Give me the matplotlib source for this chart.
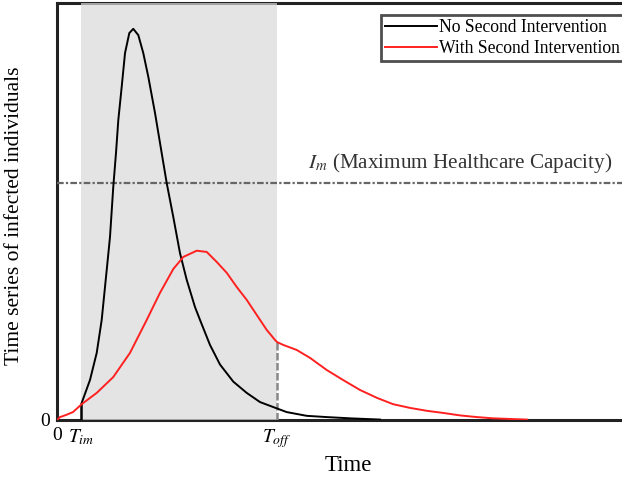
import matplotlib
matplotlib.use("Agg")
import matplotlib.pyplot as plt

plt.rcParams['font.family'] = ['Liberation Serif', 'DejaVu Serif']
plt.rcParams['mathtext.fontset'] = 'stix'

# Time (arbitrary units) and infected individuals (arbitrary units)
t_no = [4.37, 5.84, 7.03, 7.91, 8.80, 9.38, 9.96, 10.44, 10.85, 11.45, 12.04, 12.80, 13.50,
        14.39, 15.27, 16.16, 17.35, 18.53, 19.42, 20.58, 21.77, 22.96, 24.42, 25.31, 27.08,
        28.85, 31.20, 33.58, 35.93, 38.28, 40.65, 44.20, 47.73, 51.86, 57.17]
i_no = [4.1, 9.6, 16.1, 24.0, 36.0, 43.9, 55.9, 64.0, 71.9, 79.9, 88.0, 92.8, 93.8,
        92.3, 88.0, 82.3, 73.6, 64.0, 56.8, 48.7, 40.0, 33.6, 27.1, 24.0, 18.0,
        13.3, 9.2, 6.5, 4.3, 3.1, 1.9, 1.0, 0.7, 0.4, 0.1]

t_with = [0, 0.53, 1.59, 2.83, 4.37, 7.03, 9.96, 12.92, 15.88, 18.23, 20.58, 22.35, 24.73,
          26.50, 28.27, 30.04, 31.81, 33.58, 35.35, 37.12, 38.58, 38.94, 40.05, 42.42,
          44.78, 47.73, 50.62, 53.63, 56.64, 59.47, 62.48, 65.49, 68.32, 71.33, 74.34,
          77.17, 83.19]
i_with = [0, 0.7, 1.2, 1.9, 3.8, 6.5, 10.3, 16.1, 24.0, 30.5, 36.2, 39.1, 40.6,
          40.3, 37.9, 35.3, 31.9, 28.8, 25.2, 21.6, 19.2, 18.7, 18.0, 16.8,
          14.9, 12.0, 9.6, 7.2, 5.3, 3.8, 2.9, 2.2, 1.7, 1.1, 0.7,
          0.4, 0.1]

T_im = 4.3
T_off = 38.94
I_m = 56.8
x_ticks = [0, T_im, T_off]
x_ticklabels = ['0', r'$T_{im}$', r'$T_{off}$']
y_ticks = [0]
y_ticklabels = ['0']

W, H = 622, 480
fig = plt.figure(figsize=(W / 100, H / 100), dpi=100)
ax = fig.add_axes([57 / W, 60 / H, (640 - 57) / W, 417 / H])
ax.set_xlim(0, (640 - 57) / 5.65)
ax.set_ylim(0, 100)

for s in ax.spines.values():
    s.set_linewidth(2.2)
    s.set_color('#222222')

ax.axvspan(T_im, T_off, color='#d9d9d9', alpha=0.7, lw=0, zorder=3)

ax.plot(t_no, i_no, color='black', lw=1.4, zorder=5, label='No Second Intervention')
ax.plot(t_with, i_with, color='#ff2020', lw=1.4, zorder=5, label='With Second Intervention')

ax.vlines(T_im, 0, i_no[0], color='black', lw=1.8, zorder=4)
ax.vlines(T_off, 0, i_with[21], color='#888888', lw=1.8, ls=(0, (3, 1)), zorder=4)

ax.axhline(I_m, color='#666666', lw=1.6, ls=(0, (3, 1, 1, 1)), zorder=4)
ax.text((612 - 57) / 5.65, I_m + 2.0, r'$I_m$ (Maximum Healthcare Capacity)', ha='right',
        va='bottom', fontsize=15.2, color='#333333', zorder=6)

ax.set_xticks(x_ticks)
ax.set_xticklabels(x_ticklabels, fontsize=14)
ax.set_yticks(y_ticks)
ax.set_yticklabels(y_ticklabels, fontsize=14)
ax.tick_params(length=0, pad=5)

ax.set_xlabel('Time', fontsize=16.5, labelpad=4)
ax.set_ylabel('Time series of infected individuals', fontsize=15.5, labelpad=6)
ax.yaxis.set_label_coords(-(57 - 24) / 583, 0.49)

leg = ax.legend(loc='upper left', bbox_to_anchor=((381 - 57) / 583, (420 - 15) / 417),
                fontsize=12.7, frameon=True, fancybox=False, handlelength=2.9,
                borderpad=0.25, labelspacing=0.2, handletextpad=0.15, borderaxespad=0)
leg.get_frame().set_edgecolor('#222222')
leg.get_frame().set_linewidth(2.0)
leg.set_zorder(10)

fig.savefig('out.png', dpi=100)
